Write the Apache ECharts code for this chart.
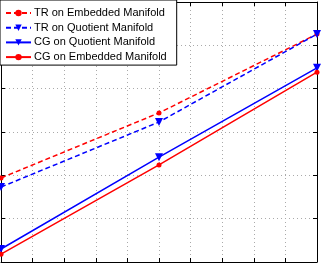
<!DOCTYPE html>
<html>
<head>
    <meta charset="utf-8">
    <script src="https://cdn.jsdelivr.net/npm/echarts@6/dist/echarts.min.js"></script>
    <style>
        html, body { margin: 0; padding: 0; background: #fff; }
    </style>
</head>
<body>
<div id="chart" style="width: 321px; height: 266px;"></div>

<script>
    // x positions of the three measured points
    var xValues = [0, 5, 10];

    // series values
    var trEmbedded = [1.94, 3.44, 5.26];
    var trQuotient = [1.73, 3.23, 5.26];
    var cgQuotient = [0.30, 2.42, 4.48];
    var cgEmbedded = [0.18, 2.24, 4.38];

    var seriesNames = [
        'TR on Embedded Manifold',
        'TR on Quotient Manifold',
        'CG on Quotient Manifold',
        'CG on Embedded Manifold'
    ];

    function pairs(ys) {
        return xValues.map(function (x, i) { return [x, ys[i]]; });
    }

    var chart = echarts.init(document.getElementById('chart'));

    function makeAxis(pos, isX, showGrid) {
        return {
            type: 'value',
            position: pos,
            min: 0,
            max: isX ? 10 : 6,
            interval: 1,
            axisLine: { show: true, onZero: false, lineStyle: { color: '#000', width: 1 } },
            axisTick: { show: true, inside: true, length: 4, lineStyle: { color: '#000' } },
            axisLabel: { show: false },
            splitLine: {
                show: showGrid,
                lineStyle: { color: '#aaa', type: [1, 3], width: 1 }
            }
        };
    }

    var option = {
        animation: false,
        backgroundColor: '#fff',
        grid: { left: 1, right: 4, top: 2, bottom: 4 },
        xAxis: [makeAxis('bottom', true, true), makeAxis('top', true, false)],
        yAxis: [makeAxis('left', false, true), makeAxis('right', false, false)],
        legend: {
            orient: 'vertical',
            left: 0,
            top: 0,
            padding: [7, 10, 2, 5],
            itemWidth: 25,
            itemHeight: 8,
            itemGap: 2.7,
            backgroundColor: '#fff',
            borderColor: '#000',
            borderWidth: 1,
            borderRadius: 0,
            textStyle: { fontFamily: 'Liberation Sans', fontSize: 11, lineHeight: 12, color: '#000', padding: [0, 0, 0, -2] },
            data: seriesNames
        },
        series: [{
            name: seriesNames[0],
            type: 'line',
            data: pairs(trEmbedded),
            color: '#ff0000',
            symbol: 'circle',
            symbolSize: 5,
            lineStyle: { width: 1.5, type: [5, 3] }
        }, {
            name: seriesNames[1],
            type: 'line',
            data: pairs(trQuotient),
            color: '#0000ff',
            symbol: 'triangle',
            symbolRotate: 180,
            symbolSize: 8,
            lineStyle: { width: 1.5, type: [5, 3] }
        }, {
            name: seriesNames[2],
            type: 'line',
            data: pairs(cgQuotient),
            color: '#0000ff',
            symbol: 'triangle',
            symbolRotate: 180,
            symbolSize: 8,
            lineStyle: { width: 1.5 }
        }, {
            name: seriesNames[3],
            type: 'line',
            data: pairs(cgEmbedded),
            color: '#ff0000',
            symbol: 'circle',
            symbolSize: 5,
            lineStyle: { width: 1.5 }
        }]
    };

    chart.setOption(option);
</script>
</body>
</html>
